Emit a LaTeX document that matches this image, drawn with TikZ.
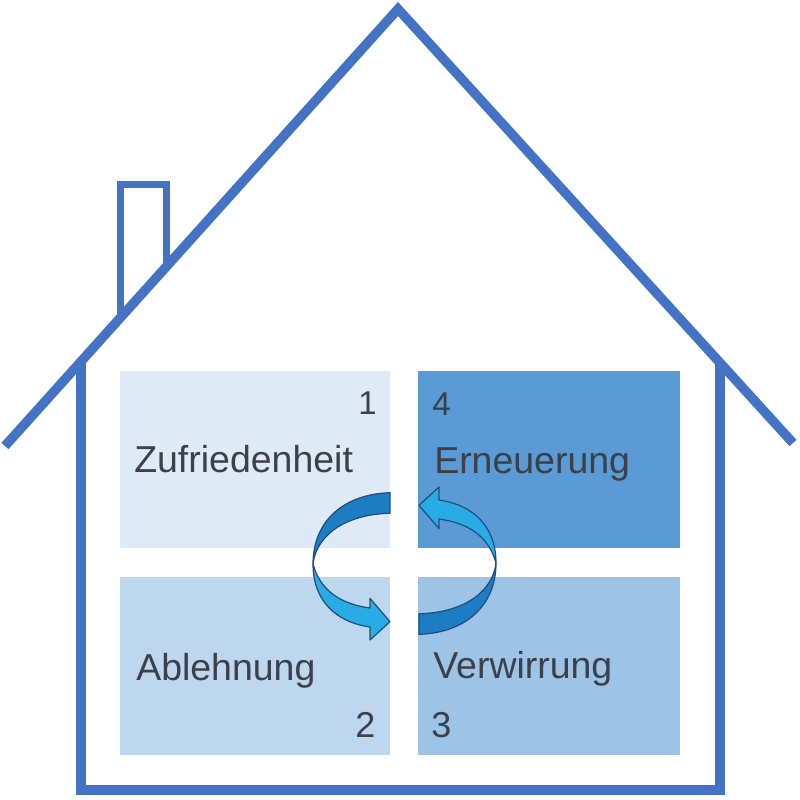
\documentclass[tikz,border=0pt]{standalone}
\usepackage{fontspec}
\setmainfont{Liberation Sans}
\definecolor{houseblue}{HTML}{4472C4}
\definecolor{cA}{HTML}{DEEAF6}
\definecolor{cB}{HTML}{BDD7EE}
\definecolor{cC}{HTML}{9DC3E6}
\definecolor{cD}{HTML}{5B9BD5}
\definecolor{txtgray}{HTML}{3B4049}
\definecolor{arrowdark}{HTML}{1C7DC2}
\definecolor{arrowlight}{HTML}{29ACE4}
\definecolor{arrowline}{HTML}{1F4E79}
\begin{document}
\begin{tikzpicture}[x=0.75pt,y=-0.75pt,
  roof/.style={draw=houseblue, line width=7.1pt, line join=miter},
  wall/.style={draw=houseblue, line width=7.5pt, line join=miter},
  chim/.style={draw=houseblue, line width=5.6pt, line join=miter},
  word/.style={font=\fontsize{28.1pt}{32pt}\selectfont, text=txtgray, inner sep=0pt, anchor=base west},
  numsmall/.style={font=\fontsize{24.75pt}{28pt}\selectfont, text=txtgray, inner sep=0pt, anchor=base west},
  numbig/.style={font=\fontsize{27pt}{30pt}\selectfont, text=txtgray, inner sep=0pt, anchor=base west},
  ribbon/.style={draw=arrowline, line width=0.9pt, line join=round},
  cyclearrow/.pic={
    \filldraw[ribbon, fill=arrowlight] (313,564) .. controls (320,590) and (340,604) .. (370,608)
      -- (370,598.3) -- (390,621.7) -- (370,640) -- (370,627)
      .. controls (335,622) and (313,600) .. (313,564) -- cycle;
    \filldraw[ribbon, fill=arrowdark] (390,492.7) .. controls (345,494) and (313,520) .. (313,564)
      .. controls (317,532) and (350,514) .. (390,513.3) -- cycle;
  }
]
\fill[white] (0,0) rectangle (800,800);
\useasboundingbox (0,0) rectangle (800,800);
% chimney
\draw[chim] (120.5,316) -- (120.5,184.5) -- (166.5,184.5) -- (166.5,265);
% walls
\draw[wall] (81,362) -- (81,790) -- (720,790) -- (720,363);
% roof
\draw[roof] (5,446) -- (398,9) -- (793,443);
% boxes
\fill[cA] (120,371) rectangle (390,548);
\fill[cD] (418,371) rectangle (680,548);
\fill[cB] (120,577) rectangle (390,755);
\fill[cC] (418,577) rectangle (680,755);
% texts
\node[numsmall] (n1) at (358,414) {1};
\node[word] (t1) at (134,472) {Zufriedenheit};
\node[numsmall] (n4) at (432,415) {4};
\node[word] (t4) at (434,473) {Erneuerung};
\node[word] (t2) at (136,680) {Ablehnung};
\node[numbig] (n2) at (355,737) {2};
\node[word] (t3) at (433,678) {Verwirrung};
\node[numbig] (n3) at (431,737) {3};
% arrows
\pic (arrowL) at (0,0) {cyclearrow};
\pic[rotate=180] (arrowR) at (809,1127) {cyclearrow};
\end{tikzpicture}
\end{document}
